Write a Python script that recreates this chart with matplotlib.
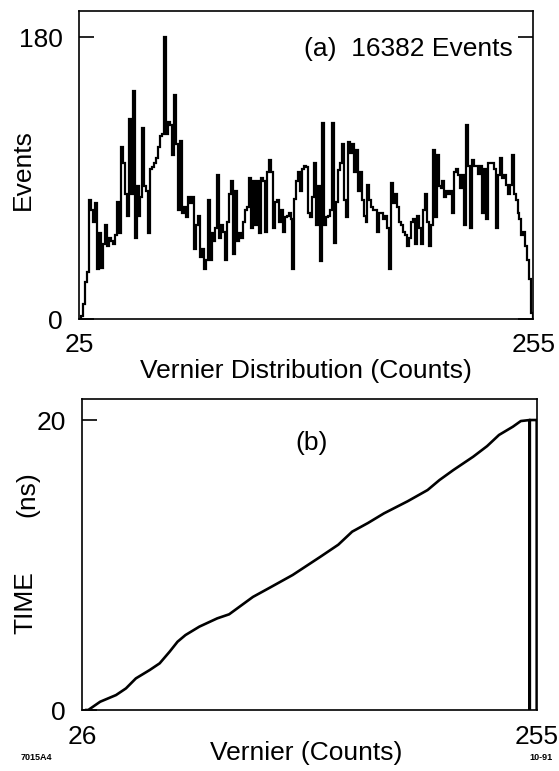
import numpy as np
import matplotlib
matplotlib.use('Agg')
import matplotlib.pyplot as plt

plt.rcParams['font.family'] = ['Liberation Sans', 'DejaVu Sans']

# (a) vernier distribution, one value per count bin from 25 to 255
bin_edges = np.arange(25, 256)
event_counts = [
    0, 2, 10, 24, 30, 76, 70, 62, 74, 32,
    55, 33, 48, 60, 47, 52, 50, 48, 54, 75,
    55, 110, 100, 80, 66, 128, 80, 146, 52, 85,
    66, 78, 122, 85, 82, 55, 96, 97, 100, 103,
    110, 117, 118, 180, 118, 126, 124, 105, 143, 112,
    70, 114, 68, 72, 65, 78, 74, 78, 45, 60,
    66, 40, 45, 32, 38, 76, 38, 55, 50, 58,
    92, 52, 60, 56, 38, 62, 80, 88, 42, 82,
    50, 55, 52, 62, 70, 72, 90, 58, 88, 60,
    88, 55, 90, 88, 56, 94, 102, 94, 58, 75,
    76, 62, 70, 56, 65, 66, 68, 64, 32, 77,
    88, 94, 82, 96, 98, 97, 68, 65, 78, 100,
    60, 85, 37, 125, 60, 65, 66, 70, 125, 49,
    75, 95, 100, 112, 76, 65, 113, 106, 112, 94,
    108, 82, 94, 76, 66, 62, 86, 76, 72, 70,
    70, 56, 68, 68, 64, 66, 58, 32, 87, 74,
    80, 72, 62, 60, 56, 54, 47, 52, 62, 64,
    48, 66, 58, 48, 70, 80, 62, 47, 60, 108,
    65, 105, 85, 84, 88, 78, 82, 80, 82, 68,
    94, 96, 92, 84, 92, 60, 124, 98, 58, 102,
    98, 98, 93, 98, 68, 96, 64, 100, 100, 100,
    96, 58, 92, 103, 90, 92, 86, 80, 86, 105,
    80, 76, 68, 64, 54, 56, 47, 38, 26, 4,
]

# (b) time calibration curve
vernier_counts = [28, 29, 35, 43, 48, 53, 60, 65, 70, 74, 78, 85, 94, 100, 104,
                  112, 120, 132, 146, 155, 162, 170, 178, 190, 200, 206, 213,
                  223, 230, 236, 243, 247, 251.5, 251.5, 251.5, 255, 255]
time_ns = [0, 0, 0.57, 1.03, 1.49, 2.18, 2.76, 3.22, 4.02, 4.71, 5.17, 5.75,
           6.32, 6.6, 7.0, 7.8, 8.4, 9.31, 10.57, 11.4, 12.3, 12.9, 13.56,
           14.4, 15.17, 15.86, 16.55, 17.47, 18.2, 18.97, 19.54, 19.93, 20,
           0, 20, 20, 0]

W, H = 559, 771


def box(x0, y0, x1, y1):
    # pixel box (top-left origin) -> figure fraction rect
    return [x0 / W, 1 - y1 / H, (x1 - x0) / W, (y1 - y0) / H]


def fxy(x, y):
    return x / W, 1 - y / H


fig = plt.figure(figsize=(W / 100, H / 100), dpi=100)
fig.patch.set_facecolor('white')

fs = 19

# top panel
ax1 = fig.add_axes(box(79.3, 11, 533.3, 319.3))
ax1.stairs(event_counts, bin_edges, color='black', lw=1.6)
ax1.set_xlim(25, 255)
ax1.set_ylim(0, 196.8)
ax1.set_xticks([25, 255])
ax1.set_yticks([0, 180])
ax1.tick_params(axis='x', length=0, pad=10, labelsize=fs)
ax1.tick_params(axis='y', direction='in', length=11, width=1.2, pad=12,
                labelsize=fs, right=True)
ax1.text(0.955, 0.877, '(a)  16382 Events', transform=ax1.transAxes,
         ha='right', va='center', fontsize=fs)

# bottom panel
ax2 = fig.add_axes(box(82.3, 399, 536.7, 710))
ax2.plot(vernier_counts, time_ns, color='black', lw=1.9)
ax2.set_xlim(26, 255)
ax2.set_ylim(0, 21.45)
ax2.set_xticks([26, 255])
ax2.set_yticks([0, 20])
ax2.tick_params(axis='x', length=0, pad=11, labelsize=fs)
ax2.tick_params(axis='y', direction='in', length=11, width=1.2, pad=12,
                labelsize=fs)
ax2.text(0.505, 0.859, '(b)', transform=ax2.transAxes,
         ha='center', va='center', fontsize=fs)

for ax in (ax1, ax2):
    for s in ax.spines.values():
        s.set_linewidth(1.2)

# axis labels
fig.text(*fxy(23, 170), 'Events', rotation=90, ha='center', va='center', fontsize=fs)
fig.text(*fxy(306, 371), 'Vernier Distribution (Counts)', ha='center', va='center', fontsize=fs)
fig.text(*fxy(25, 603), 'TIME', rotation=90, ha='center', va='center', fontsize=fs)
fig.text(*fxy(27, 494), '(ns)', rotation=90, ha='center', va='center', fontsize=fs)
fig.text(*fxy(306, 753), 'Vernier (Counts)', ha='center', va='center', fontsize=fs)

# figure id marks
fig.text(*fxy(36, 758), '7015A4', ha='center', va='center', fontsize=6.5, fontweight='bold')
fig.text(*fxy(541, 757), '10-91', ha='center', va='center', fontsize=6.5, fontweight='bold')

fig.savefig('out.png', dpi=100)
